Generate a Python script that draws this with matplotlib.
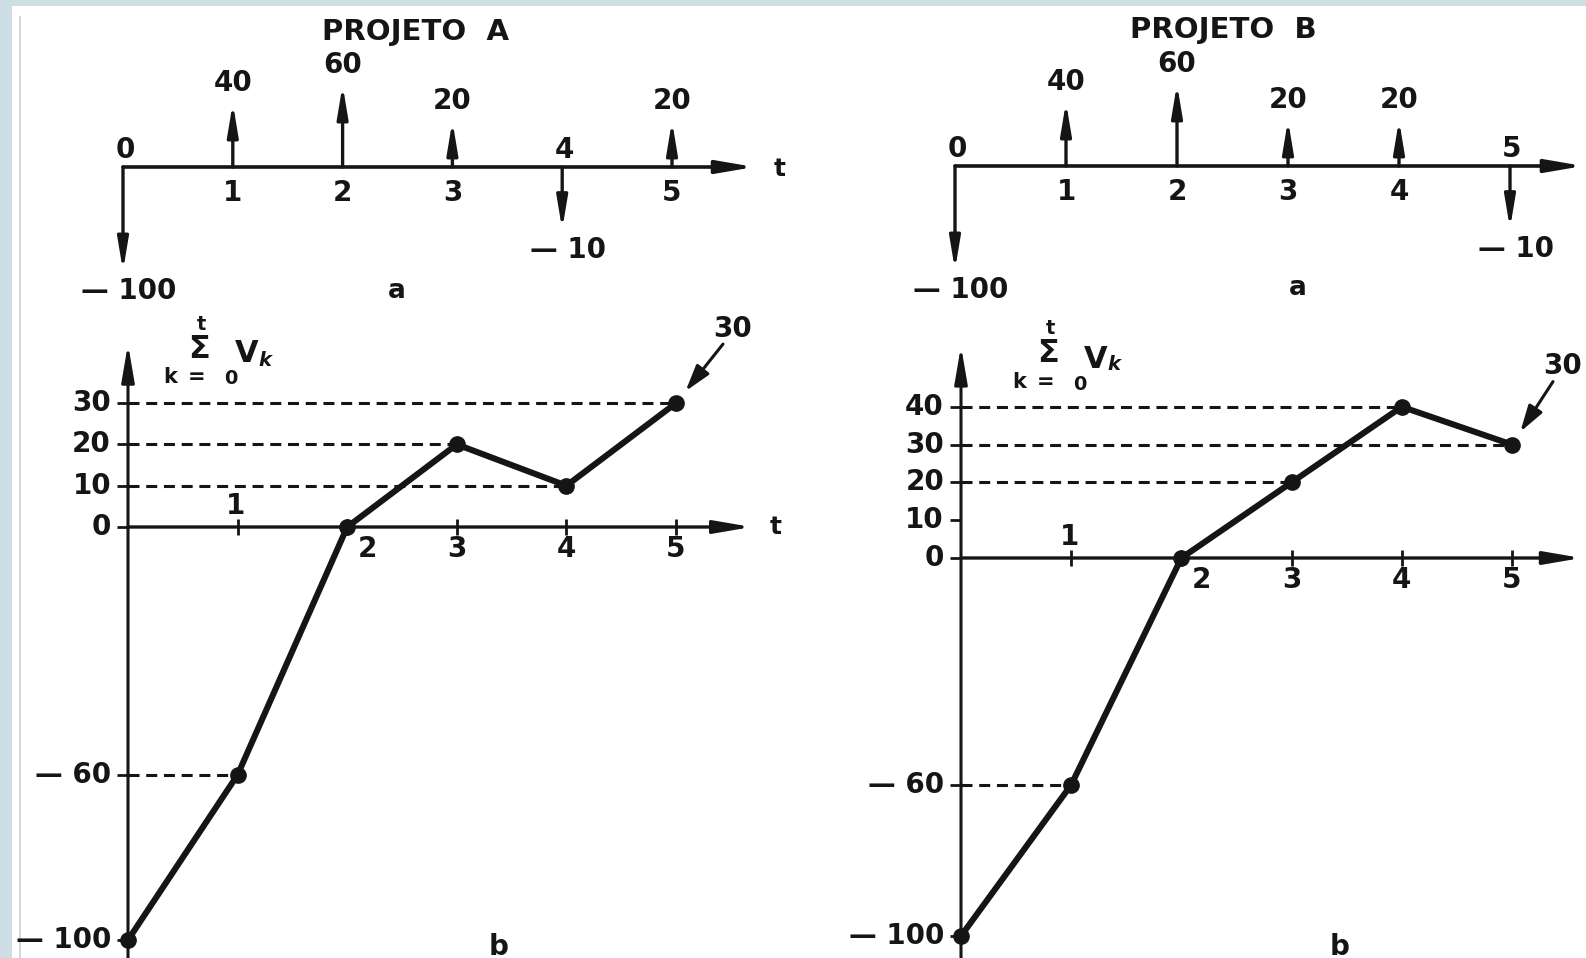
import numpy as np
import matplotlib
matplotlib.use("Agg")
from matplotlib import pyplot as plt
from matplotlib.patches import Rectangle
from matplotlib.lines import Line2D


# ################ Data ################ #
periods = [0, 1, 2, 3, 4, 5]
flows_a = [-100, 40, 60, 20, -10, 20]
flows_b = [-100, 40, 60, 20, 20, -10]
cum_a = np.cumsum(flows_a)
cum_b = np.cumsum(flows_b)
yticks_a = [30, 20, 10, 0, -60, -100]
yticks_b = [40, 30, 20, 10, 0, -60, -100]
titles = ["PROJETO  A", "PROJETO  B"]


# ################ Figure / page ################ #
INK = "#151515"
W, H = 1586, 958
fig = plt.figure(figsize=(W / 100, H / 100), dpi=100, facecolor="#cddfe5")
fig.patches.append(Rectangle((12 / W, 0), 1 - 12 / W, 1 - 6 / H, transform=fig.transFigure,
                             facecolor="white", edgecolor="none", zorder=-5))
fig.add_artist(Line2D([20 / W, 20 / W], [0, 1 - 17 / H], transform=fig.transFigure,
                      color="#cfcfd6", lw=1.2, zorder=-4))


def panel(left, top, width, height, xlim, ylim):
    ax = fig.add_axes([left / W, 1 - (top + height) / H, width / W, height / H])
    ax.set_xlim(*xlim)
    ax.set_ylim(*ylim)
    ax.axis("off")
    return ax


def label(ax, text, xy, dx, dy, size=20, ha="center", va="center", **kw):
    ax.annotate(text, xy=xy, xytext=(dx, dy), textcoords="offset pixels", ha=ha, va=va,
                fontsize=size, fontweight="bold", color=INK, annotation_clip=False, **kw)


def arrow(ax, start, end, lw=2.4, hl=1.2, hw=0.2, shrink=0):
    ax.annotate("", xy=end, xytext=start, annotation_clip=False,
                arrowprops=dict(arrowstyle=f"-|>,head_length={hl},head_width={hw}", lw=lw,
                                color=INK, shrinkA=0, shrinkB=shrink, mutation_scale=16))


def arrow_len(v):
    # schematic length (px) of the cash-flow arrows
    return 28 + 0.9 * v if v > 0 else -(58 + 0.46 * abs(v))


def cash_flow(ax, flows, t_end, title_off, title, a_off, show_t):
    arrow(ax, (0, 0), (t_end, 0), lw=2.6, hl=1.4, hw=0.24)
    for t, v in zip(periods, flows):
        tip = arrow_len(v)
        arrow(ax, (t, 0), (t, tip), lw=2.4)
        if v > 0:
            label(ax, str(v), (t, tip), 0, 20)
            label(ax, str(t), (t, 0), 0, -26)
        else:
            label(ax, f"— {abs(v)}", (t, tip), 6, -20)
            label(ax, str(t), (t, 0), 2, 17)
    label(ax, title, (0, 0), title_off[0], title_off[1], size=21)
    label(ax, "a", (0, 0), a_off[0], a_off[1], size=19)
    if show_t:
        label(ax, "t", (t_end, 0), 25, -2, size=18)


def cumulative(ax, cum, yticks, x_end, y_top, y_bottom, sig_off, thirty_txt, thirty_start,
               b_off, show_t):
    arrow(ax, (0, y_bottom), (0, y_top), lw=2.2, hl=1.4, hw=0.24)
    arrow(ax, (0, 0), (x_end, 0), lw=2.4, hl=1.4, hw=0.24)
    for v in yticks:
        ax.plot([0], [v], marker=0, ms=8, mew=2, color=INK)
        txt = str(v) if v >= 0 else f"— {abs(v)}"
        label(ax, txt, (0, v), -17, 0, ha="right")
        hits = [t for t, c in zip(periods, cum) if c == v and v != 0 and t > 0]
        if hits:
            ax.plot([0, hits[-1]], [v, v], ls=(0, (3.6, 2.2)), lw=2.2, color=INK, zorder=2)
    for t, c in zip(periods[1:], cum[1:]):
        ax.plot([t], [0], marker="|", ms=12, mew=2, color=INK)
        if c < 0:
            label(ax, str(t), (t, 0), -2, 21)
        elif c == 0:
            label(ax, str(t), (t, 0), 20, -22)
        else:
            label(ax, str(t), (t, 0), 0, -22)
    ax.plot(periods, cum, color=INK, lw=4.4, marker="o", ms=11, solid_capstyle="round",
            solid_joinstyle="round", zorder=5)
    if show_t:
        label(ax, "t", (x_end, 0), 24, 0, size=18)

    # sum_{k=0}^{t} V_k label
    ox, oy = sig_off
    label(ax, "t", (0, 0), ox + 2, oy + 25, size=14)
    label(ax, "Σ", (0, 0), ox, oy, size=23)
    label(ax, "k", (0, 0), ox - 29, oy - 28, size=15)
    label(ax, "=", (0, 0), ox - 2, oy - 28, size=15)
    label(ax, "0", (0, 0), ox + 32, oy - 30, size=14)
    label(ax, "V", (0, 0), ox + 48, oy - 5, size=22)
    label(ax, "k", (0, 0), ox + 66, oy - 11, size=14, style="italic")

    # final value callout
    last = (periods[-1], cum[-1])
    label(ax, str(cum[-1]), last, thirty_txt[0], thirty_txt[1], size=20)
    ax.annotate("", xy=last, xytext=thirty_start, textcoords="offset pixels",
                annotation_clip=False,
                arrowprops=dict(arrowstyle="-|>,head_length=1.0,head_width=0.3", lw=2.2,
                                color=INK, shrinkA=0, shrinkB=11, mutation_scale=16))
    label(ax, "b", (0, 0), b_off[0], b_off[1], size=20, va="baseline")


# ################ Top: cash flows ################ #
ax_a = panel(0, 0, 793, 300, (-123 / 109.8, (793 - 123) / 109.8), (-133, 167))
cash_flow(ax_a, flows_a, 5.75, (293, 135), titles[0], (274, -124), True)

ax_b = panel(793, 0, 793, 300, (-(955 - 793) / 111, (1586 - 955) / 111), (-134, 166))
cash_flow(ax_b, flows_b, 5.66, (268, 136), titles[1], (343, -122), False)


# ################ Bottom: cumulative values ################ #
sa, za = 4.13, 527
ax_c = panel(0, 300, 793, 658, (-128 / 109.6, (793 - 128) / 109.6),
             (-(958 - za) / sa, (za - 300) / sa))
cumulative(ax_c, cum_a, yticks_a, 5.69, 44.3, -(958 - za) / sa - 2, (71, 178),
           (57, 74), (47, 59), (371, -428), True)

sb, zb = 3.78, 558
ax_d = panel(793, 300, 793, 658, (-(961 - 793) / 110.2, (1586 - 961) / 110.2),
             (-(958 - zb) / sb, (zb - 300) / sb))
cumulative(ax_d, cum_b, yticks_b, 5.63, 56.1, -(958 - zb) / sb - 2, (87, 204),
           (51, 79), (41, 63), (379, -397), False)

plt.savefig("out.png", dpi=100, facecolor=fig.get_facecolor())
